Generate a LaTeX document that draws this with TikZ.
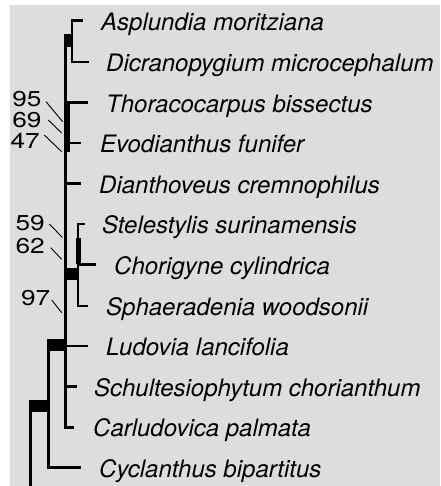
\documentclass[tikz,border=0pt]{standalone}
\usepackage{fontspec}
\setmainfont{TeX Gyre Heros}
\definecolor{bggray}{RGB}{221,221,221}
\newcommand\taxfont{\fontsize{24}{28}\selectfont\itshape}
\newcommand\bsfont{\fontsize{21.5}{25}\selectfont}
\newcommand\bsnum[1]{\scalebox{1.22}[1]{#1}}
\begin{document}
\begin{tikzpicture}[x=1pt,y=-1pt,
  branch/.style={line width=2.5pt,line cap=butt,line join=miter},
  stem/.style={line width=3pt,line cap=butt,line join=miter},
  thinbranch/.style={line width=2pt,line cap=butt,line join=miter},
  box/.style={fill=black,draw=none,inner sep=0pt,rectangle},
  lead/.style={line width=0.9pt},
  taxon/.style={anchor=base west,inner sep=0pt,font=\taxfont},
  bs/.style={anchor=base east,inner sep=0pt,font=\bsfont}]
\useasboundingbox (0,0) rectangle (440,486);
\fill[bggray] (10,5) rectangle (440,486);

% leaf tick ends
\coordinate (L1) at (83,20.7);
\coordinate (L2) at (89,62);
\coordinate (L3) at (87.5,102.3);
\coordinate (L4) at (81,143);
\coordinate (L5) at (81,183.5);
\coordinate (L6) at (85,224);
\coordinate (L7) at (95.5,264.5);
\coordinate (L8) at (88,305.5);
\coordinate (L9) at (88,346);
\coordinate (L10) at (77,386.5);
\coordinate (L11) at (74,427);
\coordinate (L12) at (81,467.7);

% taxa
\node[taxon] (t1) at (101,30.5) {Asplundia moritziana};
\node[taxon] (t2) at (106,71.8) {Dicranopygium microcephalum};
\node[taxon] (t3) at (106,112.1) {Thoracocarpus bissectus};
\node[taxon] (t4) at (100,152.8) {Evodianthus funifer};
\node[taxon] (t5) at (99,193.3) {Dianthoveus cremnophilus};
\node[taxon] (t6) at (102,233.8) {Stelestylis surinamensis};
\node[taxon] (t7) at (114,274.3) {Chorigyne cylindrica};
\node[taxon] (t8) at (106,315.3) {Sphaeradenia woodsonii};
\node[taxon] (t9) at (106,355.8) {Ludovia lancifolia};
\node[taxon] (t10) at (94,396.3) {Schultesiophytum chorianthum};
\node[taxon] (t11) at (93,436.8) {Carludovica palmata};
\node[taxon] (t12) at (99,477.5) {Cyclanthus bipartitus};

% top clade
\coordinate (nA) at (72,41);
\draw[branch] (L1) -| (nA) |- (L2);
\node[box,minimum width=8.7pt,minimum height=13pt] (bA) at (68.35,40.5) {};

% main backbone
\coordinate (mT) at (65.5,40.5);
\draw[stem] (mT) |- (L11);
\draw[branch] (mT |- L3) -- (L3);
\draw[branch] (mT |- L4) -- (L4);
\draw[branch] (mT |- L5) -- (L5);
\draw[branch] (mT |- L9) -- (L9);
\draw[branch] (mT |- L10) -- (L10);
\fill (64.3,103) rectangle (70,152);

% Stelestylis clade
\coordinate (nS) at (78.3,274);
\draw[thinbranch] (L6) -| (nS) |- (L8);
\draw[branch] (nS |- L7) -- (L7);
\fill (76,238) rectangle (80.5,264);
\node[box,minimum width=14.5pt,minimum height=12pt] (bS) at (71.25,274) {};

% Cyclanthus node
\coordinate (nB) at (48.7,345);
\draw[branch] (nB) |- (L12);
\node[box,minimum width=19.4pt,minimum height=11.7pt] (bB) at (57,344.85) {};

% root
\coordinate (nR) at (30.8,400);
\coordinate (root) at (30.8,486);
\draw[stem] (nR) -- (root);
\node[box,minimum width=20pt,minimum height=11.7pt] (bC) at (39.3,405.85) {};

% bootstrap values
\node[bs] (b95) at (41.7,106.3) {\bsnum{95}};
\node[bs] (b69) at (41.7,127.3) {\bsnum{69}};
\node[bs] (b47) at (40,148.7) {\bsnum{47}};
\node[bs] (b59) at (45,230) {\bsnum{59}};
\node[bs] (b62) at (45,253) {\bsnum{62}};
\node[bs] (b97) at (50.5,305) {\bsnum{97}};

\coordinate (s95) at (46,101.7);  \coordinate (e95) at (62.7,121.7);
\coordinate (s69) at (48.3,120);  \coordinate (e69) at (61.7,133);
\coordinate (s47) at (44.3,135);  \coordinate (e47) at (61.7,151.7);
\coordinate (s59) at (49.3,224);  \coordinate (e59) at (62.3,237.3);
\coordinate (s62) at (50.7,247.7);\coordinate (e62) at (61.7,259.3);
\coordinate (s97) at (51.7,300);  \coordinate (e97) at (61.7,312.7);
\draw[lead] (s95) -- (e95);
\draw[lead] (s69) -- (e69);
\draw[lead] (s47) -- (e47);
\draw[lead] (s59) -- (e59);
\draw[lead] (s62) -- (e62);
\draw[lead] (s97) -- (e97);
\end{tikzpicture}
\end{document}
